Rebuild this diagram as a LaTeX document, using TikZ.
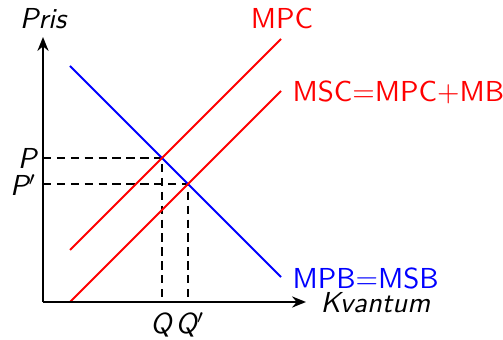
\documentclass[tikz,border=0pt]{standalone}
\usetikzlibrary{arrows.meta}
\begin{document}
\begin{tikzpicture}[x=0.36pt,y=-0.36pt,
  font=\fontsize{10.4}{12.5}\selectfont\sffamily,
  axis/.style={line width=0.8pt,-{Stealth[length=5pt,width=4pt]}},
  curve/.style={line width=0.75pt},
  guide/.style={line width=0.4pt,dash pattern=on 3pt off 2pt},
  lbl/.style={inner sep=0pt}]
\useasboundingbox (0,0) rectangle (503,340);
\coordinate (O) at (43,302);
\coordinate (Ytop) at (43,37);
\coordinate (Xend) at (306,302);
\coordinate (mpbA) at (70,66);
\coordinate (mpbB) at (281,277);
\coordinate (mpcA) at (70,250);
\coordinate (mpcB) at (281,39);
\coordinate (mscA) at (70,302);
\coordinate (mscB) at (281,91);
\coordinate (E) at (162,158);
\coordinate (E2) at (188,184);
\coordinate (Py) at (43,158);
\coordinate (P2y) at (43,184);
\coordinate (Qx) at (162,302);
\coordinate (Q2x) at (188,302);
\draw[guide] (Py) -- (E) -- (Qx);
\draw[guide] (P2y) -- (E2) -- (Q2x);
\draw[curve,blue] (mpbA) -- (mpbB);
\draw[curve,red] (mpcA) -- (mpcB);
\draw[curve,red] (mscA) -- (mscB);
\draw[axis] (O) -- (Ytop);
\draw[axis] (O) -- (Xend);
\node[lbl] (pris) at (43,19) {\slshape Pris};
\node[lbl,anchor=west] (kv) at (320,303) {\slshape Kvantum};
\node[lbl,anchor=east] (p) at (37,158) {\slshape P};
\node[lbl,anchor=east] (p2) at (37,185) {\slshape P$'$};
\node[lbl] (q) at (161,325) {\slshape Q};
\node[lbl,anchor=west] (q2) at (175,325) {\slshape Q$'$};
\node[lbl,red] (mpc) at (282,18) {MPC};
\node[lbl,red,anchor=west] (msc) at (292,92) {MSC=MPC+MB};
\node[lbl,blue,anchor=west] (mpb) at (292,278) {MPB=MSB};
\end{tikzpicture}
\end{document}
